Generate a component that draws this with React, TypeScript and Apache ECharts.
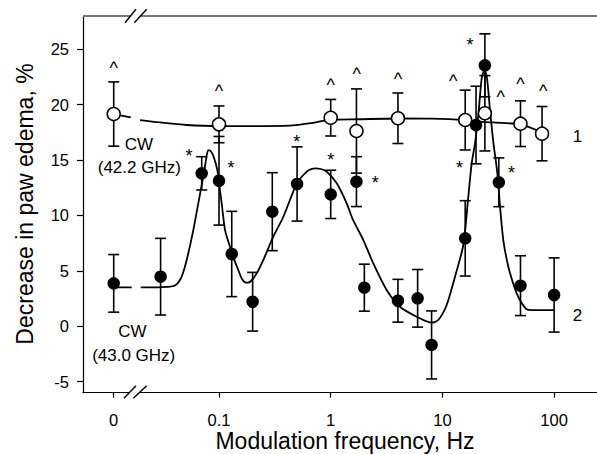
import React, { useEffect, useRef } from "react";
import * as echarts from "echarts";

const FONT = '"Liberation Sans", Arial, Helvetica, sans-serif';

// Position (in log10 Hz units) where the CW ("0 Hz") points sit, left of the axis break
const CW_POS = -1.9427;

const xTickPos = [CW_POS, -1, 0, 1, 2];
const xTickLabels = ["0", "0.1", "1", "10", "100"];
const yTicks = [-5, 0, 5, 10, 15, 20, 25];

// Curve 1: 42.2 GHz (open circles). Frequency 0 = CW
const openFreq = [0, 0.1, 1, 1.7, 4, 16, 24, 50, 78];
const openVal = [19.15, 18.22, 18.82, 17.62, 18.77, 18.61, 19.22, 18.28, 17.38];
const openErr = [2.9, 1.66, 1.65, 3.8, 2.28, 2.7, 3.4, 2.06, 2.45];

// Curve 2: 43.0 GHz (filled circles). Frequency 0 = CW
const filledFreq = [0, 0.03, 0.07, 0.1, 0.13, 0.2, 0.3, 0.5, 1, 1.7, 2, 4, 6, 8, 16, 20, 24, 32, 50, 100];
const filledVal = [3.87, 4.47, 13.8, 13.13, 6.52, 2.21, 10.34, 12.84, 11.9, 13.05, 3.48, 2.3, 2.52, -1.69, 7.93, 18.16, 23.55, 12.99, 3.66, 2.82];
const filledErr = [2.6, 3.46, 1.5, 4.0, 3.85, 2.65, 3.52, 3.35, 2.18, 2.25, 2.12, 1.93, 2.6, 3.07, 3.4, 3.5, 2.84, 2.2, 2.7, 3.35];

// Fitted curves, x in log10(Hz) (CW segment at CW_POS), null = axis break
const fit1X = [CW_POS, -1.79, null, -1.707, -1.528, -1.289, -1.0, -0.722, -0.364, -0.2, 0, 0.25, 0.6, 0.9, 1.2, 1.3, 1.45, 1.7, 1.89];
const fit1Y = [19.15, 18.86, null, 18.6, 18.39, 18.16, 18.06, 18.06, 18.1, 18.3, 18.62, 18.68, 18.75, 18.73, 18.61, 18.48, 18.39, 18.2, 17.5];

const fit2X = [CW_POS, -1.782, null, -1.701, -1.55, -1.468, -1.394, -1.349, -1.313, -1.275, -1.23, -1.188, -1.152, -1.135, -1.115, -1.096, -1.07, -1.045, -1.015, -1.0, -0.975, -0.946, -0.902, -0.86, -0.827, -0.794, -0.758, -0.731, -0.693, -0.65, -0.603, -0.514, -0.424, -0.304, -0.245, -0.194, -0.141, -0.087, -0.036, 0.054, 0.143, 0.2, 0.292, 0.381, 0.501, 0.62, 0.77, 0.904, 0.963, 1.038, 1.113, 1.187, 1.232, 1.262, 1.292, 1.323, 1.352, 1.377, 1.399, 1.426, 1.456, 1.492, 1.516, 1.545, 1.59, 1.632, 1.665, 1.704, 1.755, 1.811, 2.002];
const fit2Y = [3.51, 3.51, null, 3.51, 3.51, 3.55, 3.68, 4.17, 5.1, 6.58, 8.67, 10.95, 12.9, 13.8, 15.1, 15.9, 15.75, 15.2, 14.1, 12.95, 11.0, 8.68, 7.18, 5.9, 5.07, 4.26, 3.93, 3.95, 4.32, 5.0, 5.98, 8.08, 9.88, 12.9, 13.65, 14.1, 14.25, 14.19, 13.95, 12.9, 11.09, 9.59, 7.78, 5.68, 3.27, 1.76, 0.86, 0.32, 0.56, 1.92, 4.47, 7.33, 11.69, 14.7, 16.5, 19.22, 22.4, 23.12, 22.4, 19.51, 16.6, 13.8, 10.79, 7.78, 5.37, 3.9, 2.97, 2.19, 1.53, 1.46, 1.46];

// Significance marks ("^" for curve 1, "*" for curve 2), placed in data units
const caretFreq = [0, 0.1, 1, 1.71, 4, 12.5, 33.3, 50, 80];
const caretVal = [23.58, 21.56, 22.07, 23.12, 22.67, 22.47, 21.02, 22.22, 21.56];
const starFreq = [0.054, 0.128, 0.497, 1, 2.5, 14.2, 17.7, 41.6];
const starVal = [15.75, 14.7, 17.03, 15.45, 13.35, 14.7, 25.83, 14.25];

const xPos = (f: number) => (f === 0 ? CW_POS : Math.log10(f));

function errorBarRender(params: any, api: any) {
  const x = api.value(0);
  const lo = api.value(1);
  const hi = api.value(2);
  const pHi = api.coord([x, hi]);
  const pLo = api.coord([x, lo]);
  const w = 5.5;
  const st = { stroke: "#000", lineWidth: 1.6 };
  return {
    type: "group",
    children: [
      { type: "line", shape: { x1: pHi[0], y1: pHi[1], x2: pLo[0], y2: pLo[1] }, style: st },
      { type: "line", shape: { x1: pHi[0] - w, y1: pHi[1], x2: pHi[0] + w, y2: pHi[1] }, style: st },
      { type: "line", shape: { x1: pLo[0] - w, y1: pLo[1], x2: pLo[0] + w, y2: pLo[1] }, style: st },
    ],
  };
}

const fitData = (xs: (number | null)[], ys: (number | null)[]) =>
  xs.map((x, i) => (x === null || ys[i] === null ? ["-", "-"] : [x, ys[i]]));

export default function App() {
  const ref = useRef<HTMLDivElement>(null);

  useEffect(() => {
    if (!ref.current) return;
    const chart = echarts.init(ref.current, undefined, { renderer: "svg" });

    const labelFor = (v: number) => {
      let best = 0;
      let bd = Infinity;
      xTickPos.forEach((p, i) => {
        const d = Math.abs(p - v);
        if (d < bd) {
          bd = d;
          best = i;
        }
      });
      return xTickLabels[best];
    };

    const markLabel = (txt: string, dy: number, size: number) => ({
      show: true,
      position: "inside",
      formatter: txt,
      offset: [0, dy],
      fontSize: size,
      fontFamily: FONT,
      color: "#000",
      opacity: 1,
      textBorderWidth: 0,
      textShadowBlur: 0,
    });

    const textStyle = (text: string, size: number) => ({
      text,
      fill: "#000",
      font: `${size}px ${FONT}`,
      align: "center",
      verticalAlign: "middle",
    });

    const option: any = {
      animation: false,
      backgroundColor: "#fff",
      grid: { left: 83, top: 16, right: 0, bottom: 61.3, containLabel: false, outerBoundsMode: "none" },
      xAxis: {
        type: "value",
        min: -2.2176,
        max: 2.384,
        position: "bottom",
        axisLine: { show: true, onZero: false, lineStyle: { color: "#000", width: 1.2 } },
        axisTick: { show: true, customValues: xTickPos, length: 5, lineStyle: { color: "#000", width: 1.2 } },
        axisLabel: {
          customValues: xTickPos,
          formatter: (v: number) => labelFor(v),
          margin: 19,
          fontSize: 16.5,
          color: "#000",
          fontFamily: FONT,
        },
        splitLine: { show: false },
      },
      yAxis: {
        type: "value",
        min: -6,
        max: 28,
        position: "left",
        axisLine: { show: true, onZero: false, lineStyle: { color: "#000", width: 1.2 } },
        axisTick: { show: true, customValues: yTicks, length: 6, lineStyle: { color: "#000", width: 1.2 } },
        axisLabel: {
          customValues: yTicks,
          margin: 14,
          fontSize: 16.5,
          color: "#000",
          fontFamily: FONT,
        },
        splitLine: { show: false },
      },
      series: [
        {
          type: "custom",
          z: 2,
          renderItem: errorBarRender,
          encode: { x: 0, y: [1, 2] },
          data: filledFreq.map((f, i) => [xPos(f), filledVal[i] - filledErr[i], filledVal[i] + filledErr[i]]),
        },
        {
          type: "custom",
          z: 2,
          renderItem: errorBarRender,
          encode: { x: 0, y: [1, 2] },
          data: openFreq.map((f, i) => [xPos(f), openVal[i] - openErr[i], openVal[i] + openErr[i]]),
        },
        {
          type: "line",
          z: 3,
          data: fitData(fit1X, fit1Y),
          showSymbol: false,
          symbol: "none",
          smooth: 0.3,
          connectNulls: false,
          lineStyle: { color: "#000", width: 1.8 },
        },
        {
          type: "line",
          z: 3,
          data: fitData(fit2X, fit2Y),
          showSymbol: false,
          symbol: "none",
          smooth: 0.25,
          connectNulls: false,
          lineStyle: { color: "#000", width: 1.8 },
        },
        {
          type: "scatter",
          z: 4,
          symbol: "circle",
          symbolSize: 12.5,
          itemStyle: { color: "#000", opacity: 1 },
          data: filledFreq.map((f, i) => [xPos(f), filledVal[i]]),
        },
        {
          type: "scatter",
          z: 5,
          symbol: "circle",
          symbolSize: 13,
          itemStyle: { color: "#fff", borderColor: "#000", borderWidth: 1.5, opacity: 1 },
          data: openFreq.map((f, i) => [xPos(f), openVal[i]]),
        },
        {
          type: "scatter",
          z: 6,
          symbolSize: 2,
          itemStyle: { color: "#fff", opacity: 0 },
          label: markLabel("^", 3.5, 18),
          data: caretFreq.map((f, i) => [xPos(f), caretVal[i]]),
        },
        {
          type: "scatter",
          z: 6,
          symbolSize: 2,
          itemStyle: { color: "#fff", opacity: 0 },
          label: markLabel("*", 4.5, 18),
          data: starFreq.map((f, i) => [xPos(f), starVal[i]]),
        },
      ],
      graphic: [
        // top frame line
        { type: "line", z: 10, shape: { x1: 83, y1: 16, x2: 597, y2: 16 }, style: { stroke: "#7a7a7a", lineWidth: 2 } },
        // axis-break gaps
        { type: "rect", z: 11, shape: { x: 131, y: 13.5, width: 9, height: 5 }, style: { fill: "#fff" } },
        { type: "rect", z: 11, shape: { x: 130, y: 390.5, width: 9, height: 4.5 }, style: { fill: "#fff" } },
        // break slashes
        { type: "line", z: 12, shape: { x1: 125, y1: 22.7, x2: 136, y2: 9.3 }, style: { stroke: "#000", lineWidth: 1.4 } },
        { type: "line", z: 12, shape: { x1: 134.3, y1: 22.7, x2: 146.7, y2: 9.3 }, style: { stroke: "#000", lineWidth: 1.4 } },
        { type: "line", z: 12, shape: { x1: 124, y1: 398.3, x2: 136, y2: 385.7 }, style: { stroke: "#000", lineWidth: 1.4 } },
        { type: "line", z: 12, shape: { x1: 133.3, y1: 398.3, x2: 146.7, y2: 385.7 }, style: { stroke: "#000", lineWidth: 1.4 } },
        // annotations
        { type: "text", z: 12, x: 139, y: 144, style: textStyle("CW", 17) },
        { type: "text", z: 12, x: 139.3, y: 167.5, style: textStyle("(42.2 GHz)", 17) },
        { type: "text", z: 12, x: 132.5, y: 331.3, style: textStyle("CW", 17) },
        { type: "text", z: 12, x: 133.7, y: 355, style: textStyle("(43.0 GHz)", 17) },
        { type: "text", z: 12, x: 577.5, y: 136, style: textStyle("1", 17) },
        { type: "text", z: 12, x: 577.5, y: 315, style: textStyle("2", 17) },
        // axis titles
        { type: "text", z: 12, x: 345, y: 441.3, style: textStyle("Modulation frequency, Hz", 23) },
        { type: "text", z: 12, x: 25.3, y: 204, rotation: Math.PI / 2, style: textStyle("Decrease in paw edema, %", 23) },
      ],
    };

    chart.setOption(option);
    return () => chart.dispose();
  }, []);

  return (
    <div
      ref={ref}
      style={{ position: "absolute", left: 0, top: 0, width: 597, height: 454, background: "#fff" }}
    />
  );
}
